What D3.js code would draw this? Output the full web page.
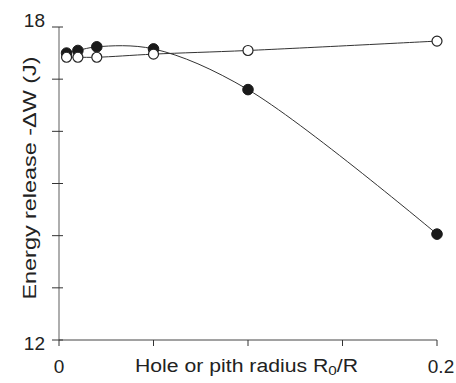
<!DOCTYPE html>
<html><head><meta charset="utf-8">
<script src="https://cdn.jsdelivr.net/npm/d3@7/dist/d3.min.js"></script>
<style>body{margin:0;background:#fff}svg{display:block}text{font-family:"Liberation Sans",Arial,sans-serif;fill:#222}</style>
</head><body>
<svg id="c" width="456" height="383"></svg>
<script>
const xValues = [0.004, 0.01, 0.02, 0.05, 0.1, 0.2];
const filledValues = [17.50, 17.55, 17.62, 17.58, 16.80, 14.03];
const openValues = [17.42, 17.42, 17.42, 17.48, 17.55, 17.73];
const yTicks = [12, 13, 14, 15, 16, 17, 18];
const yTickLabels = {12: "12", 18: "18"};
const xTicks = [0, 0.05, 0.1, 0.15, 0.2];
const xTickLabels = {0: "0", 0.2: "0.2"};

const svg = d3.select("#c");
const x = d3.scaleLinear().domain([0, 0.2]).range([59, 437]);
const y = d3.scaleLinear().domain([12, 18]).range([340, 27]);

// y axis
svg.append("line").attr("x1", x(0)).attr("x2", x(0)).attr("y1", y(18)).attr("y2", y(12))
  .attr("stroke", "#9a9a9a").attr("stroke-width", 1.6);
svg.selectAll(".yt").data(yTicks).enter().append("line")
  .attr("x1", 52).attr("x2", 63).attr("y1", d => y(d)).attr("y2", d => y(d))
  .attr("stroke", "#333").attr("stroke-width", 1);
svg.append("text").attr("x", 45).attr("y", y(18) - 7).attr("text-anchor", "end")
  .attr("dominant-baseline", "central").attr("font-size", 19).text(yTickLabels[18]);
svg.append("text").attr("x", 45).attr("y", y(12) + 3).attr("text-anchor", "end")
  .attr("dominant-baseline", "central").attr("font-size", 19).text(yTickLabels[12]);

// x axis
svg.append("line").attr("x1", x(0)).attr("x2", x(0.2)).attr("y1", y(12)).attr("y2", y(12))
  .attr("stroke", "#444").attr("stroke-width", 1);
svg.selectAll(".xt").data(xTicks).enter().append("line")
  .attr("x1", d => x(d)).attr("x2", d => x(d)).attr("y1", y(12)).attr("y2", y(12) + 6)
  .attr("stroke", "#333").attr("stroke-width", 1);
svg.append("text").attr("x", x(0)).attr("y", 366).attr("text-anchor", "middle")
  .attr("dominant-baseline", "central").attr("font-size", 19).text(xTickLabels[0]);
svg.append("text").attr("x", x(0.2) + 4).attr("y", 366).attr("text-anchor", "middle")
  .attr("dominant-baseline", "central").attr("font-size", 19).text(xTickLabels[0.2]);

// axis titles
const xt = svg.append("text").attr("x", 135).attr("y", 366).attr("dominant-baseline", "central")
  .attr("font-size", 18).attr("textLength", 223).attr("lengthAdjust", "spacingAndGlyphs");
xt.append("tspan").text("Hole or pith radius R");
xt.append("tspan").attr("font-size", 13).attr("dy", 4).text("0");
xt.append("tspan").attr("dy", -4).text("/R");

svg.append("text").attr("transform", "translate(30,178) rotate(-90)").attr("text-anchor", "middle")
  .attr("dominant-baseline", "central").attr("font-size", 18)
  .attr("textLength", 243).attr("lengthAdjust", "spacingAndGlyphs")
  .text("Energy release -\u0394W (J)");

// lines
const line = d3.line().curve(d3.curveCatmullRom.alpha(0.5)).x(d => x(d[0])).y(d => y(d[1]));
const filled = xValues.map((v, i) => [v, filledValues[i]]);
const open = xValues.map((v, i) => [v, openValues[i]]);
svg.append("path").attr("d", line(open)).attr("fill", "none").attr("stroke", "#333").attr("stroke-width", 1);
svg.append("path").attr("d", line(filled)).attr("fill", "none").attr("stroke", "#333").attr("stroke-width", 1);

svg.selectAll(".fp").data(filled).enter().append("circle")
  .attr("cx", d => x(d[0])).attr("cy", d => y(d[1])).attr("r", 5.3)
  .attr("fill", "#1a1a1a").attr("stroke", "#1a1a1a").attr("stroke-width", 1);
svg.selectAll(".op").data(open).enter().append("circle")
  .attr("cx", d => x(d[0])).attr("cy", d => y(d[1])).attr("r", 5)
  .attr("fill", "#fff").attr("stroke", "#222").attr("stroke-width", 1.2);
</script>
</body></html>
